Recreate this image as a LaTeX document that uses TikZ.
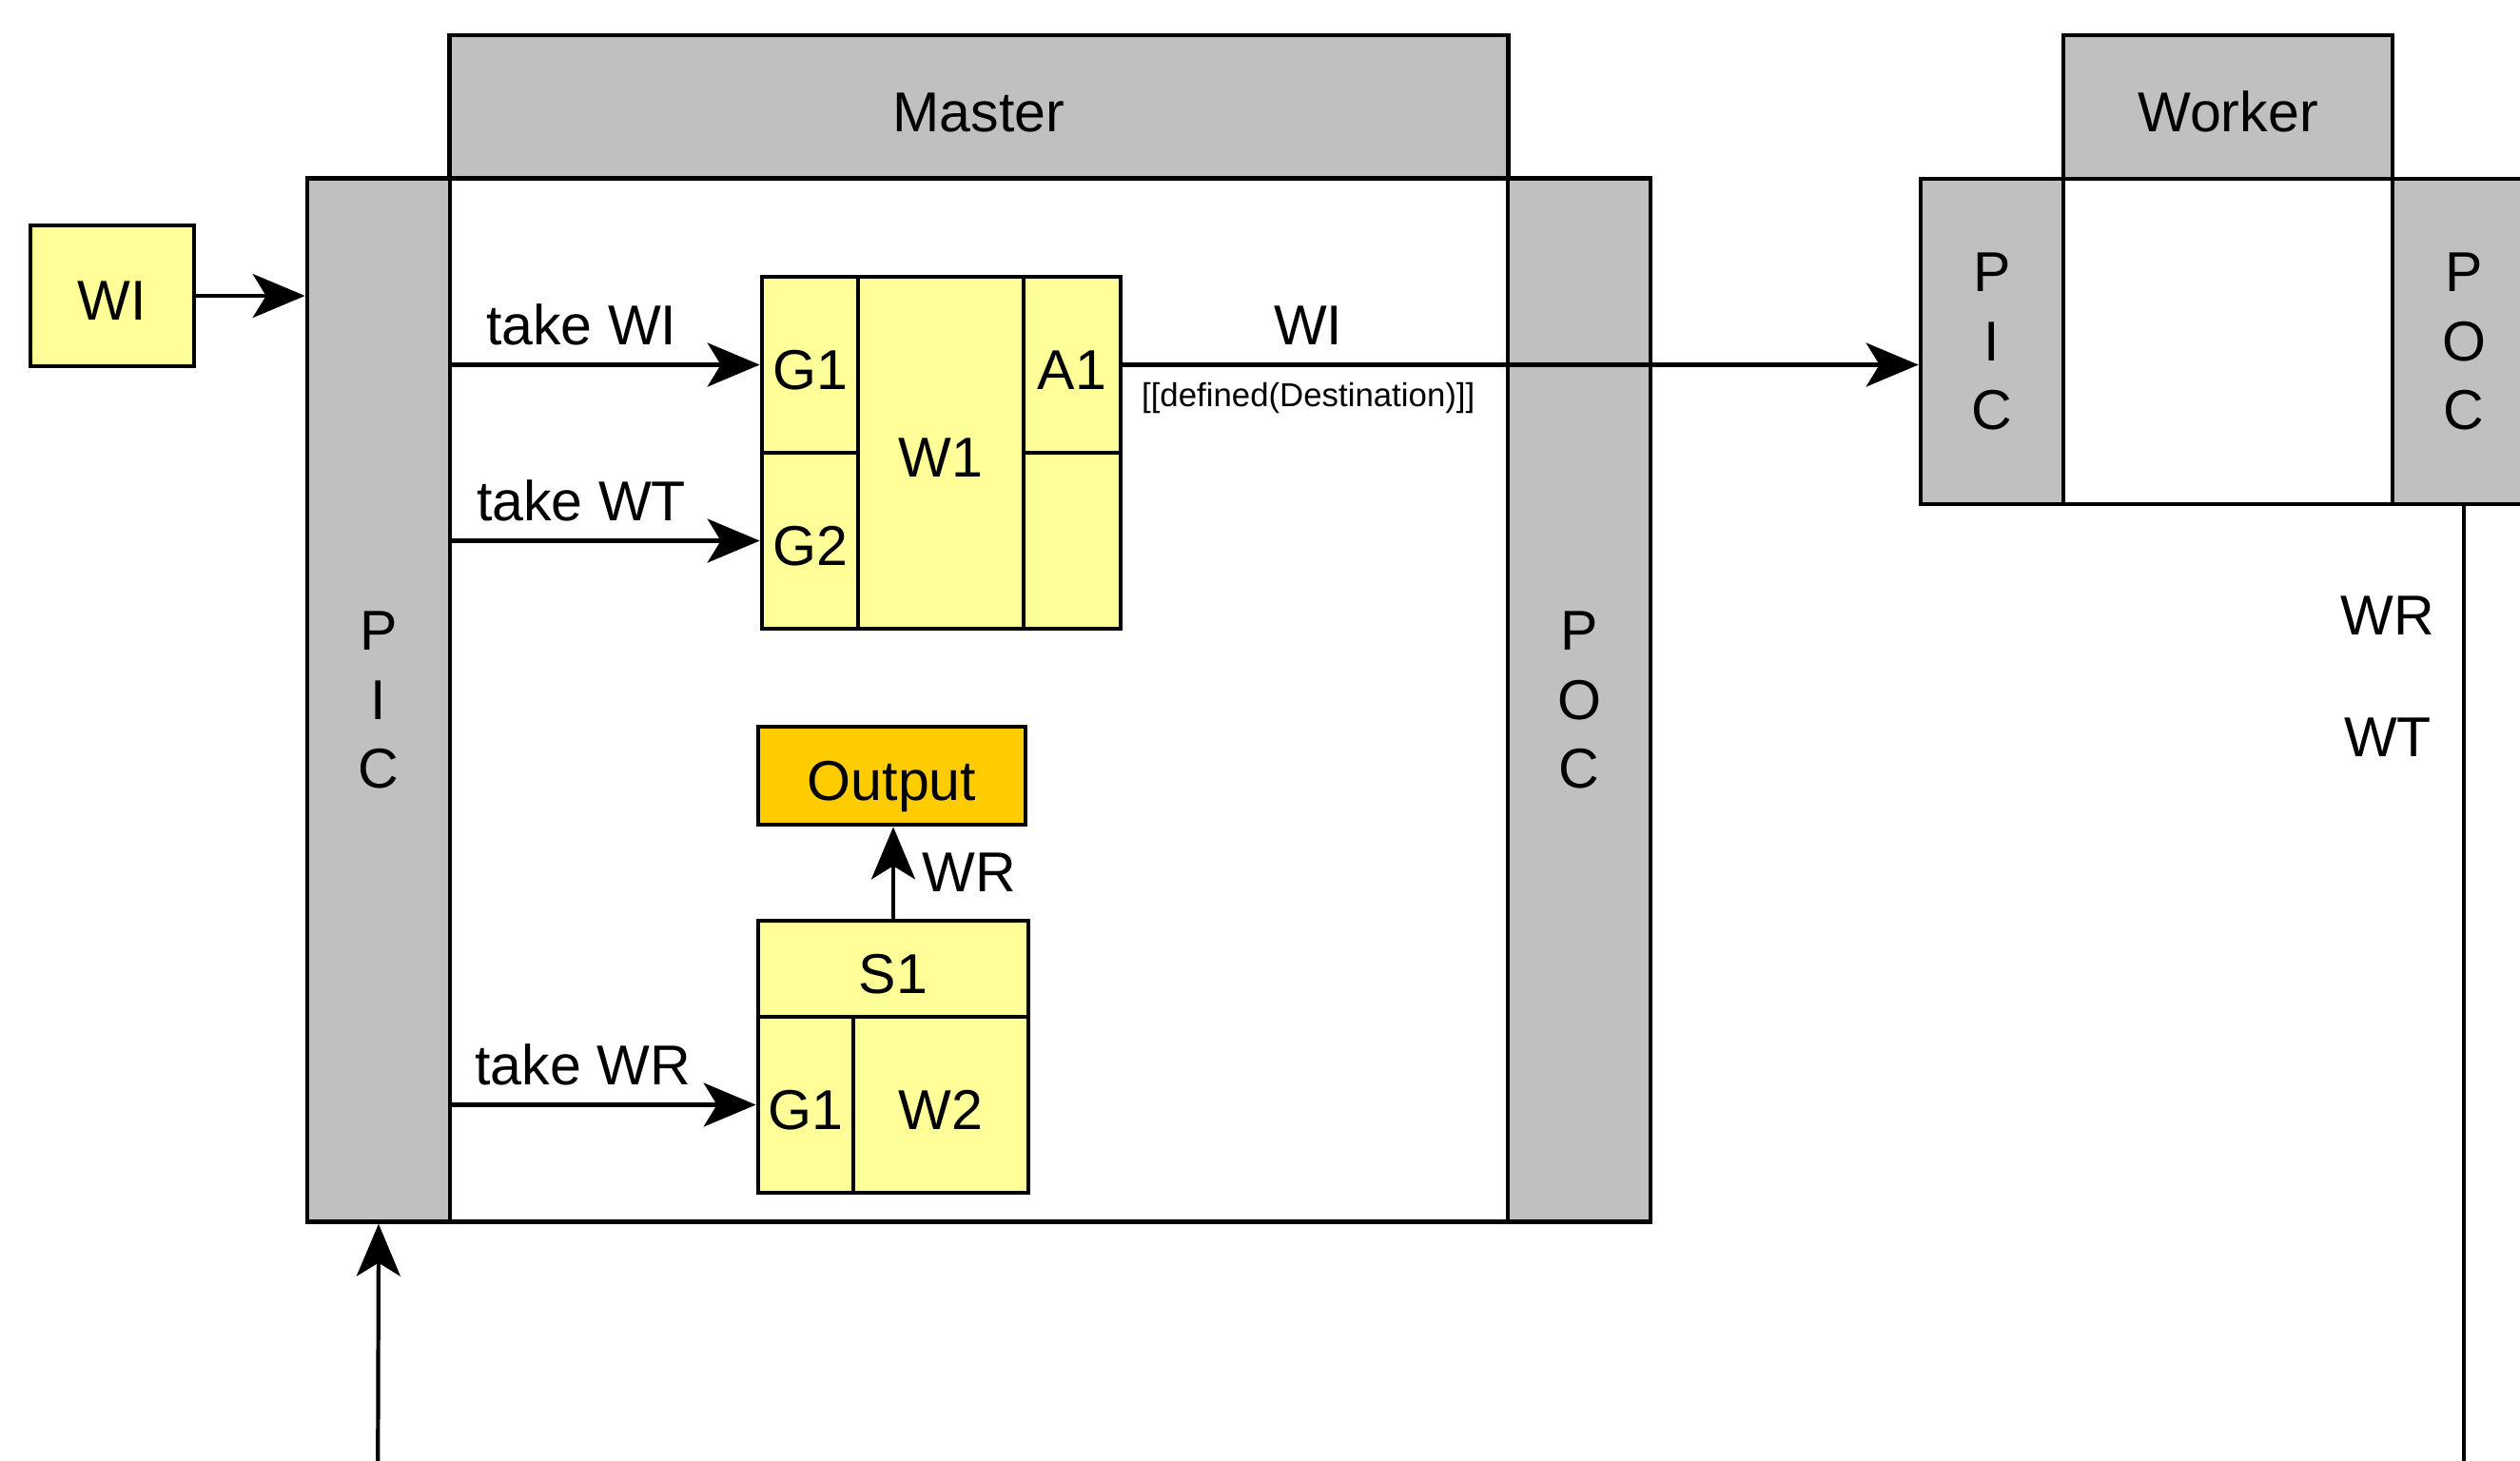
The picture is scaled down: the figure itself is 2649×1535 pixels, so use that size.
\documentclass[tikz,border=0pt]{standalone}
\usepackage{fontspec}
\setmainfont{Liberation Sans}
\usetikzlibrary{arrows.meta, positioning}
\definecolor{blockgray}{HTML}{C0C0C0}
\definecolor{cellyellow}{HTML}{FFFF99}
\definecolor{outorange}{HTML}{FFCC00}
\tikzset{
  boxdim/.style 2 args={minimum width=#1, minimum height=#2},
  block/.style={
    rectangle, draw=black, line width=1.3pt,
    inner sep=0pt, text centered
  },
  oneline/.style={text height=14.7pt, text depth=0pt},
  graybox/.style={block, fill=blockgray, align=center},
  headbox/.style={block, fill=blockgray, oneline},
  cellbox/.style={block, fill=cellyellow, oneline},
  outbox/.style={block, fill=outorange, oneline},
  plainbox/.style={block, fill=white},
  arrow/.style={-{Stealth[length=5.5mm, width=4.6mm, inset=1.4mm]}, line width=1.2pt, black},
  toplabel/.style={above, yshift=2pt},
  smalllabel/.style={below, yshift=-1.5pt, font=\fontsize{9.9}{12}\selectfont}
}

\begin{document}
\begin{tikzpicture}[x=0.01cm, y=-0.01cm, font=\fontsize{16.8}{20.7}\selectfont]

  \clip (0,0) rectangle (2649,1535);

  % Input item
  \node[cellbox, boxdim={1.72cm}{1.48cm}] (wiin) at (118,311) {WI};

  % Master
  \node[headbox, boxdim={11.12cm}{1.51cm}] (mhead) at (1029,112.5) {Master};
  \node[plainbox, boxdim={11.12cm}{10.96cm}] (mbody) at (1029,736) {};
  \node[graybox, boxdim={1.5cm}{10.96cm}] (mpic) at (398,736) {P\\I\\C};
  \node[graybox, boxdim={1.5cm}{10.96cm}] (mpoc) at (1660,736) {P\\O\\C};

  % Work step W1
  \node[cellbox, boxdim={1.01cm}{1.85cm}] (g1) at (851.5,383.5) {G1};
  \node[cellbox, boxdim={1.01cm}{1.85cm}] (g2) at (851.5,568.5) {G2};
  \node[cellbox, boxdim={1.74cm}{3.70cm}] (w1) at (989,476) {W1};
  \node[cellbox, boxdim={1.02cm}{1.85cm}] (a1) at (1127,383.5) {A1};
  \node[cellbox, boxdim={1.02cm}{1.85cm}] (a2) at (1127,568.5) {};

  % Output and step S1
  \node[outbox, boxdim={2.81cm}{1.03cm}] (out) at (937.5,815.5) {Output};
  \node[cellbox, boxdim={2.84cm}{1.01cm}] (s1) at (939,1018.5) {S1};
  \node[cellbox, boxdim={1.00cm}{1.85cm}] (g1b) at (847,1161.5) {G1};
  \node[cellbox, boxdim={1.84cm}{1.85cm}] (w2) at (989,1161.5) {W2};

  % Worker
  \node[headbox, boxdim={3.46cm}{1.51cm}] (whead) at (2342,112.5) {Worker};
  \node[plainbox, boxdim={3.46cm}{3.42cm}] (wbody) at (2342,359) {};
  \node[graybox, boxdim={1.5cm}{3.42cm}] (wpic) at (2094,359) {P\\I\\C};
  \node[graybox, boxdim={1.5cm}{3.42cm}] (wpoc) at (2590,359) {P\\O\\C};

  \node (wrlbl) at (2510,647) {WR};
  \node (wtlbl) at (2510,775) {WT};

  \coordinate (minput) at (397,1620);
  \coordinate (wout) at (2590,1620);

  % Connectors
  \draw[arrow] (wiin.east) -- (wiin.east -| mpic.west);
  \draw[arrow] (mpic.east |- g1.west) -- node[toplabel, pos=0.42]{take WI} (g1.west);
  \draw[arrow] (mpic.east |- g2.west) -- node[toplabel, pos=0.42]{take WT} (g2.west);
  \draw[arrow] (mpic.east |- g1b.west) -- node[toplabel, pos=0.43]{take WR} (g1b.west);
  \draw[arrow] (s1.north) -- node[right, xshift=0.17cm]{WR} (s1.north |- out.south);
  \draw[arrow] (a1.east) --
    node[toplabel, pos=0.233]{WI}
    node[smalllabel, pos=0.233]{[[defined(Destination)]]}
    (a1.east -| wpic.west);
  \draw[arrow] (minput) -- (mpic.south);
  \draw[line width=1.2pt] (wpoc.south) -- (wout);

\end{tikzpicture}
\end{document}
